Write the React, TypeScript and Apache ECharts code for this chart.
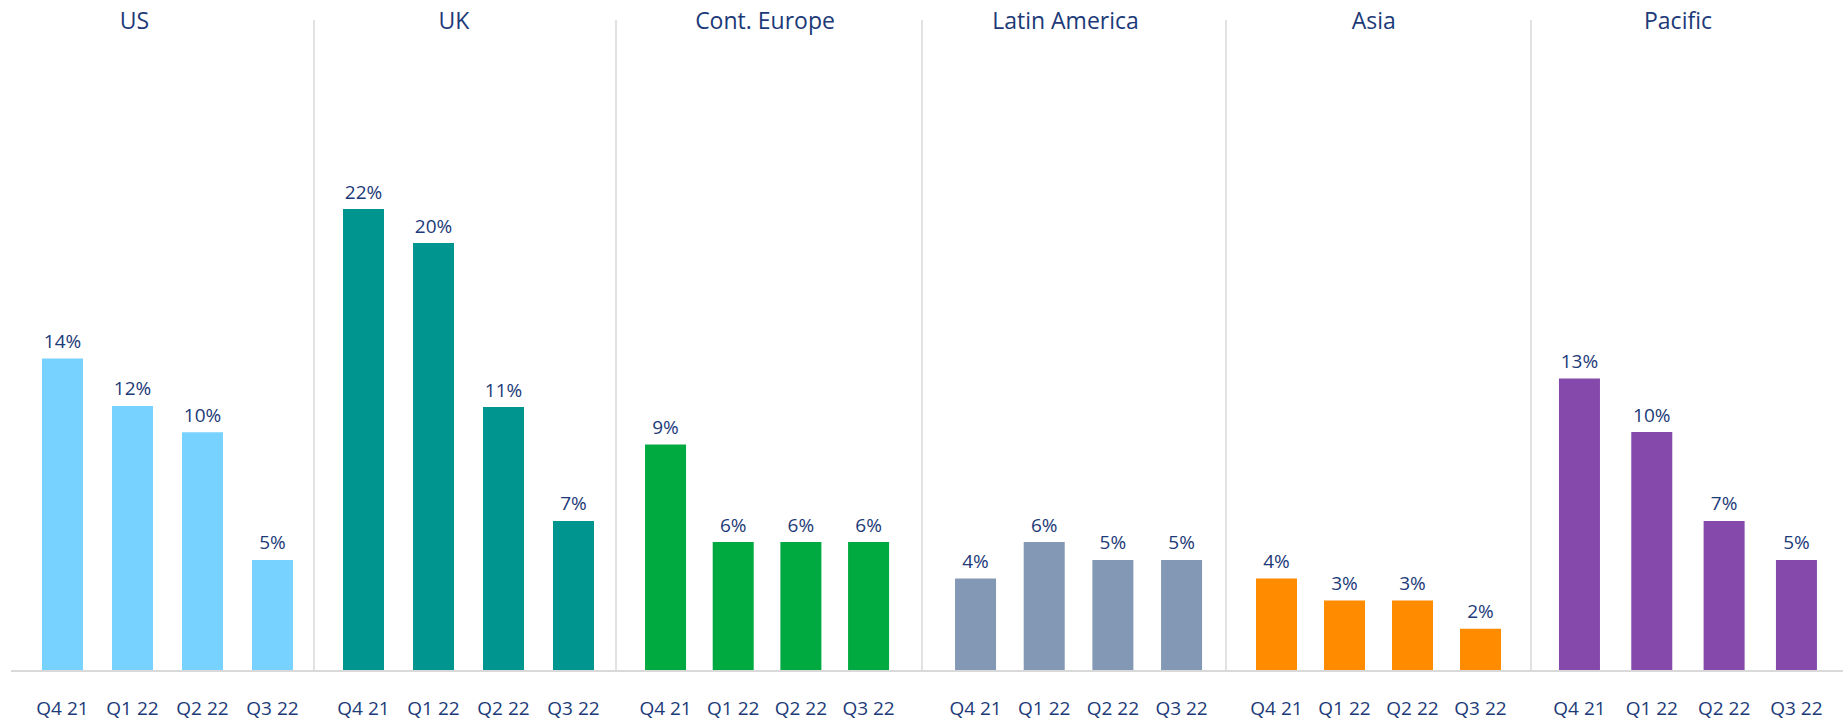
import React, { useEffect, useRef } from "react";
import * as echarts from "echarts";

const quarters = ["Q4 21", "Q1 22", "Q2 22", "Q3 22"];
const regions = ["US", "UK", "Cont. Europe", "Latin America", "Asia", "Pacific"];

// Bar heights
const usValues = [14.2, 12.05, 10.85, 5.05];
const ukValues = [21.0, 19.45, 12.0, 6.82];
const europeValues = [10.3, 5.86, 5.86, 5.86];
const latamValues = [4.2, 5.86, 5.05, 5.05];
const asiaValues = [4.2, 3.2, 3.2, 1.92];
const pacificValues = [13.3, 10.86, 6.82, 5.05];

// Printed data labels
const usLabels = ["14%", "12%", "10%", "5%"];
const ukLabels = ["22%", "20%", "11%", "7%"];
const europeLabels = ["9%", "6%", "6%", "6%"];
const latamLabels = ["4%", "6%", "5%", "5%"];
const asiaLabels = ["4%", "3%", "3%", "2%"];
const pacificLabels = ["13%", "10%", "7%", "5%"];

const colors = ["#78D2FF", "#00968F", "#00AA41", "#8398B5", "#FF8B00", "#8449AA"];

const allValues = [usValues, ukValues, europeValues, latamValues, asiaValues, pacificValues];
const allLabels = [usLabels, ukLabels, europeLabels, latamLabels, asiaLabels, pacificLabels];

// layout
const gridLefts = [27.5, 328.5, 631.7, 941.2, 1242.5, 1543.3];
const gridWidths = [280, 280, 270.7, 274.7, 272, 289.3];
const titleCenters = [134.5, 454, 765, 1065.5, 1373.7, 1678];
const dividerXs = [314, 616, 922, 1226, 1531];
const BASE = 671;
const YMAX = 28;
const PX_PER_UNIT = 22;
const TEXT = "#1C3A78";
const FONT = "'Open Sans', 'Noto Sans', sans-serif";

export default function App() {
  const ref = useRef<HTMLDivElement>(null);

  useEffect(() => {
    if (!ref.current) return;
    const chart = echarts.init(ref.current, null, { renderer: "svg" });
    const gridTop = BASE - YMAX * PX_PER_UNIT;
    const grids = regions.map((_, i) => ({
      left: gridLefts[i],
      width: gridWidths[i],
      top: gridTop,
      height: YMAX * PX_PER_UNIT,
      containLabel: false,
    }));
    const xAxes = regions.map((_, i) => ({
      type: "category",
      gridIndex: i,
      data: quarters,
      axisLine: { show: false },
      axisTick: { show: false },
      axisLabel: { color: TEXT, fontSize: 19, fontFamily: FONT, margin: 27, interval: 0, hideOverlap: false },
    }));
    const yAxes = regions.map((_, i) => ({
      type: "value",
      gridIndex: i,
      min: 0,
      max: YMAX,
      show: false,
      splitLine: { show: false },
    }));
    const series = regions.map((name, i) => ({
      type: "bar",
      name,
      xAxisIndex: i,
      yAxisIndex: i,
      data: allValues[i],
      barWidth: 41,
      itemStyle: { color: colors[i] },
      label: {
        show: true,
        position: "top",
        distance: 8,
        color: TEXT,
        fontSize: 19,
        fontFamily: FONT,
        formatter: (p: any) => allLabels[i][p.dataIndex],
      },
    }));
    const graphic: any[] = [
      {
        type: "line",
        shape: { x1: 11, y1: BASE, x2: 1843, y2: BASE },
        style: { stroke: "#D9D9D9", lineWidth: 2 },
        z: 10,
      },
      ...dividerXs.map((x) => ({
        type: "line",
        shape: { x1: x, y1: 20, x2: x, y2: BASE },
        style: { stroke: "#D9D9D9", lineWidth: 1.5 },
      })),
      ...regions.map((name, i) => ({
        type: "text",
        x: titleCenters[i],
        y: 19.5,
        style: {
          text: name,
          fill: TEXT,
          font: `23px ${FONT}`,
          textAlign: "center",
          textVerticalAlign: "middle",
        },
      })),
    ];
    chart.setOption({
      animation: false,
      backgroundColor: "#FFFFFF",
      grid: grids,
      xAxis: xAxes,
      yAxis: yAxes,
      series,
      graphic,
    });
    return () => chart.dispose();
  }, []);

  return (
    <div
      ref={ref}
      style={{ position: "fixed", left: 0, top: 0, width: "1843px", height: "722px", background: "#fff" }}
    />
  );
}
